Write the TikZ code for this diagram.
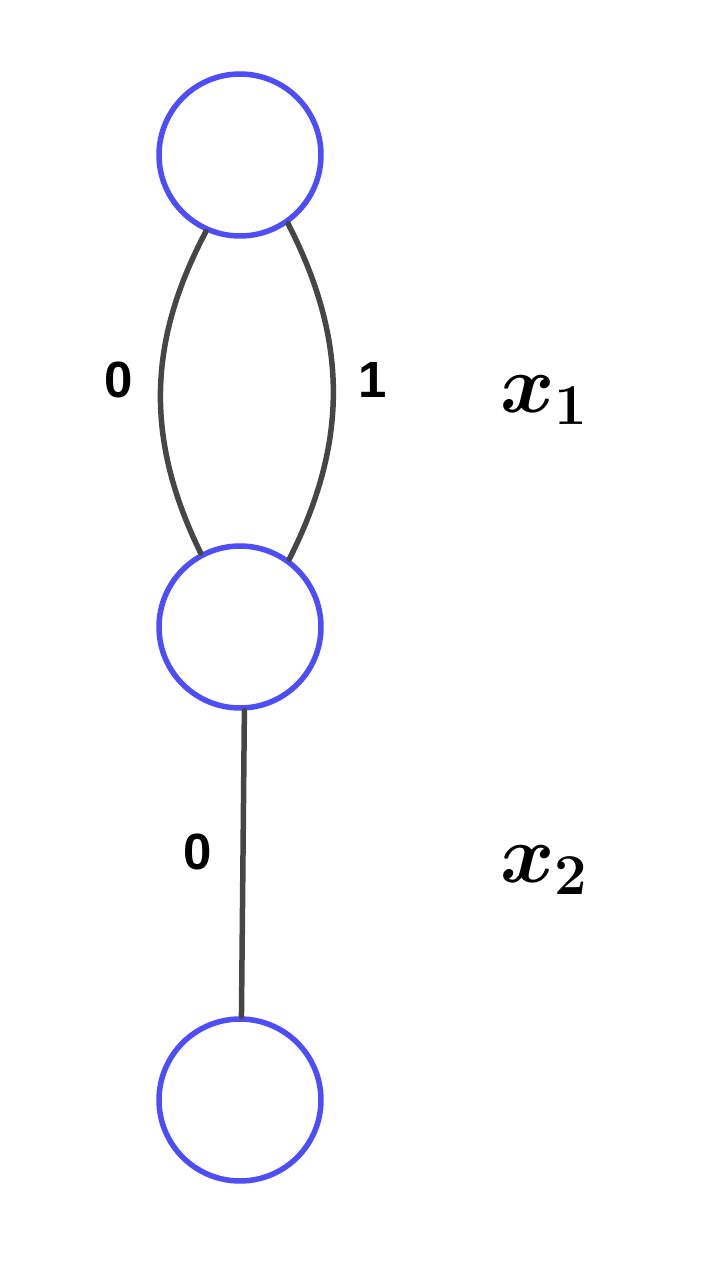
\documentclass[tikz,border=0pt]{standalone}
\usepackage{fix-cm}
\usepackage{amsmath,amsfonts,amssymb}
\usepackage{fontspec}
\setmainfont{Liberation Sans}
\definecolor{nodeblue}{RGB}{77,77,250}
\definecolor{edgegray}{RGB}{70,70,70}

\begin{document}
\begin{tikzpicture}[x=0.02cm,y=-0.02cm,
  state/.style={circle,draw=nodeblue,line width=0.11cm,inner sep=0pt,minimum size=3.24cm},
  edge/.style={draw=edgegray,line width=0.11cm,line cap=round},
  lab/.style={font=\fontsize{29}{33}\selectfont\bfseries},
  var/.style={font=\fontsize{47}{52}\selectfont\boldmath}]
\useasboundingbox (0,0) rectangle (708,1275);
\node[state] at (240,155) (s1) {};
\node[state] at (240,627) (s2) {};
\node[state] at (240,1100) (s3) {};

\draw[edge] (s1.-114) to[bend right=27] (s2.118);
\draw[edge] (s1.-55) to[bend left=27] (s2.54);
\draw[edge] (s2.-87) -- (s3.89);

\node[lab] at (119,380) (l0) {0};
\node[lab] at (373,380) (l1) {1};
\node[lab] at (198,852) (l2) {0};
\node[var] at (544,400) (x1) {$x_1$};
\node[var] at (544,870) (x2) {$x_2$};
\end{tikzpicture}
\end{document}
